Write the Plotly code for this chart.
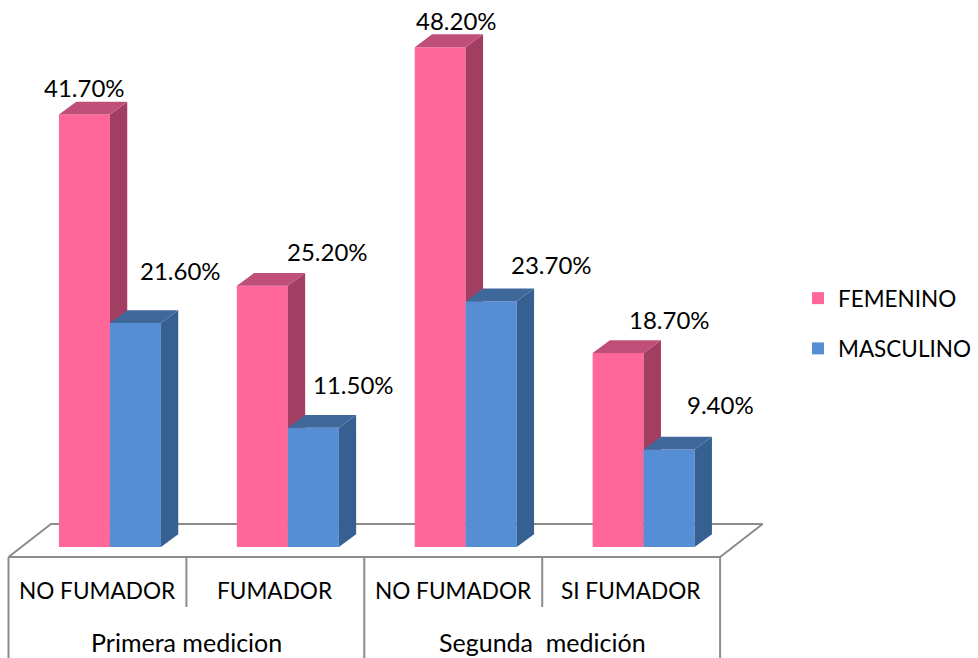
import plotly.graph_objects as go

# Chart data
groups = ["Primera medicion", "Segunda\u00a0 medición"]
categories = ["NO FUMADOR", "FUMADOR", "NO FUMADOR", "SI FUMADOR"]
femenino = [41.7, 25.2, 48.2, 18.7]
masculino = [21.6, 11.5, 23.7, 9.4]

# Colours of each bar's front, top and side faces
PINK = ("#FF6699", "#BF4F78", "#A33E63")
BLUE = ("#558ED5", "#40699B", "#376092")
GRID = "#8C8C8C"
FONT = "Lato"

# Canvas geometry in pixels
W, H = 978, 658
LEFT, CAT_W = 8.5, 177.9     # left edge of the floor, width of one category
BASE_PX, UNIT_PX = 547, 10.37  # baseline row, pixels per percentage point
DX_PX, DY_PX = 17.3, 12.8    # depth of the oblique projection
BAR_PX = 51
SHIFT_PX = 12.5              # bars sit mid-depth on the floor

x_range = [(0 - LEFT) / CAT_W - 0.5, (W - LEFT) / CAT_W - 0.5]
y_range = [(BASE_PX - H) / UNIT_PX, BASE_PX / UNIT_PX]
dx, dy = DX_PX / CAT_W, DY_PX / UNIT_PX
bw = BAR_PX / CAT_W
shift = SHIFT_PX / CAT_W


def y_at(px):
    return (BASE_PX - px) / UNIT_PX


def poly(xs, ys, color, axes):
    return go.Scatter(x=xs, y=ys, mode="lines", fill="toself", fillcolor=color,
                      line=dict(width=0), showlegend=False, hoverinfo="skip",
                      xaxis=axes[0], yaxis=axes[1])


def series(name, values, offset, colors, axes):
    traces = [go.Bar(x=list(range(len(values))), y=values, name=name, width=bw,
                     offset=offset, marker=dict(color=colors[0], line=dict(width=0)),
                     legendgroup=name, xaxis=axes[0], yaxis=axes[1])]
    for i, v in enumerate(values):
        x0 = i + offset
        x1 = x0 + bw
        traces.append(poly([x1, x1 + dx, x1 + dx, x1, x1],
                           [0, dy, v + dy, v, 0], colors[2], axes))
        traces.append(poly([x0, x0 + dx, x1 + dx, x1, x0],
                           [v, v + dy, v + dy, v, v], colors[1], axes))
    return traces


fig = go.Figure()

# Floor outline and the category dividers below it
n = len(categories)
fl, fr = -0.5, n - 0.5
front, back = y_at(557), y_at(524)
dfx = 42.5 / CAT_W
fig.add_trace(go.Scatter(
    x=[fl, fr, fr + dfx, fl + dfx, fl], y=[front, front, back, back, front],
    mode="lines", line=dict(color=GRID, width=2), showlegend=False, hoverinfo="skip"))
for i in range(n + 1):
    long_tick = i % 2 == 0
    fig.add_trace(go.Scatter(
        x=[fl + i, fl + i], y=[front, y_at(H if long_tick else 607)],
        mode="lines", line=dict(color=GRID, width=2), showlegend=False, hoverinfo="skip"))

# Overlaid axes keep blue faces on top of the pink side faces
for tr in series("FEMENINO", femenino, shift - bw, PINK, ("x2", "y2")):
    fig.add_trace(tr)
for tr in series("MASCULINO", masculino, shift, BLUE, ("x3", "y3")):
    fig.add_trace(tr)

annotations = []

# Value labels, nudged off the bar tops by hand
fem_shift = [(0.5, 27), (65.5, 34), (16, 27), (51.5, 34)]
mas_shift = [(45.5, 52.5), (40, 43.5), (60, 36.5), (51, 45)]
for values, offs, sign in ((femenino, fem_shift, -1), (masculino, mas_shift, 1)):
    for i, v in enumerate(values):
        annotations.append(dict(
            x=i + shift + sign * bw / 2, y=v, xref="x", yref="y",
            text=f"{v:.2f}%", showarrow=False, xanchor="center", yanchor="middle",
            xshift=offs[i][0], yshift=offs[i][1],
            font=dict(family=FONT, size=24, color="#000000")))

# Axis labels
for i, c in enumerate(categories):
    annotations.append(dict(x=i, y=y_at(590), xref="x", yref="y", text=c, showarrow=False,
                            xanchor="center", yanchor="middle",
                            font=dict(family=FONT, size=22.6, color="#000000")))
for i, g in enumerate(groups):
    annotations.append(dict(x=2 * i + 0.5, y=y_at(642), xref="x", yref="y", text=g,
                            showarrow=False, xanchor="center", yanchor="middle",
                            font=dict(family=FONT, size=25, color="#000000")))

hidden = dict(visible=False, fixedrange=True)
fig.update_layout(
    width=W, height=H, margin=dict(l=0, r=0, t=0, b=0, pad=0),
    paper_bgcolor="white", plot_bgcolor="white",
    xaxis=dict(range=x_range, **hidden), yaxis=dict(range=y_range, **hidden),
    xaxis2=dict(range=x_range, overlaying="x", anchor="y2", **hidden),
    yaxis2=dict(range=y_range, overlaying="y", anchor="x2", **hidden),
    xaxis3=dict(range=x_range, overlaying="x", anchor="y3", **hidden),
    yaxis3=dict(range=y_range, overlaying="y", anchor="x3", **hidden),
    legend=dict(x=798 / W, y=1 - 277 / H, xanchor="left", yanchor="top",
                bgcolor="rgba(0,0,0,0)", tracegroupgap=18,
                font=dict(family=FONT, size=22.5, color="#000000")),
    annotations=annotations,
)

fig.write_html("out.html", config={"displayModeBar": False})
